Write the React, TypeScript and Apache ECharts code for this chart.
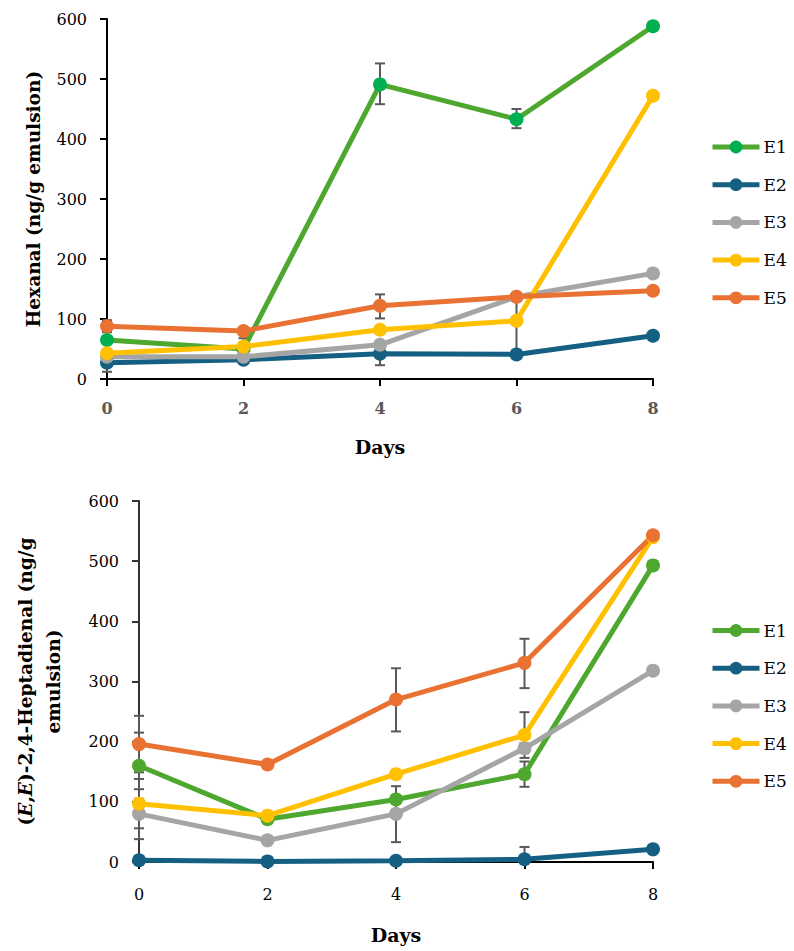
import React, { useEffect, useRef } from "react";
import * as echarts from "echarts";

const days = [0, 2, 4, 6, 8];
const seriesNames = ["E1", "E2", "E3", "E4", "E5"];
const xTicks = [0, 2, 4, 6, 8];
const yTicks = [0, 100, 200, 300, 400, 500, 600];

// Hexanal (ng/g emulsion)
const hexE1 = [65, 50, 491, 433, 588];
const hexE2 = [27, 32, 42, 41, 72];
const hexE3 = [37, 37, 57, 137, 176];
const hexE4 = [43, 54, 82, 97, 472];
const hexE5 = [88, 80, 122, 137, 147];

// error bars [day, low, high]
const hexErrE1 = [[2, 32, 68], [4, 458, 526], [6, 418, 450]];
const hexErrE2 = [[0, 12, 42], [4, 23, 59]];
const hexErrE3 = [[6, 47, 137]];
const hexErrE4: number[][] = [];
const hexErrE5 = [[0, 78, 98], [4, 101, 141]];

// (E,E)-2,4-Heptadienal (ng/g emulsion)
const hepE1 = [160, 71, 104, 146, 493];
const hepE2 = [3, 1, 2, 4.5, 21];
const hepE3 = [80, 36, 80, 189, 318];
const hepE4 = [97, 77, 146, 211, 540];
const hepE5 = [196, 162, 270, 331, 543];

const hepErrE1 = [[0, 105, 215], [6, 125, 167]];
const hepErrE2 = [[6, 0, 25]];
const hepErrE3 = [[0, 38, 121], [4, 33, 126], [6, 181, 197]];
const hepErrE4 = [[0, 56, 138], [6, 173, 249]];
const hepErrE5 = [[0, 149, 243], [4, 217, 322], [6, 289, 371]];

const lineColors = ["#4EA72E", "#156082", "#A5A5A5", "#FFC000", "#E97132"];
const topMarkerColors = ["#00B050", "#156082", "#A5A5A5", "#FFC000", "#E97132"];
const botMarkerColors = ["#4EA72E", "#156082", "#A5A5A5", "#FFC000", "#E97132"];

const FONT = "DejaVu Serif";

function errorSeries(data: number[][]) {
  return {
    type: "custom",
    z: 1,
    silent: true,
    data,
    encode: { x: 0, y: [1, 2] },
    renderItem: (params: any, api: any) => {
      const x = api.value(0);
      const p1 = api.coord([x, api.value(1)]);
      const p2 = api.coord([x, api.value(2)]);
      const w = 5;
      const st = { stroke: "#595959", lineWidth: 2 };
      return {
        type: "group",
        children: [
          { type: "line", shape: { x1: p1[0], y1: p1[1], x2: p2[0], y2: p2[1] }, style: st },
          { type: "line", shape: { x1: p1[0] - w, y1: p1[1], x2: p1[0] + w, y2: p1[1] }, style: st },
          { type: "line", shape: { x1: p2[0] - w, y1: p2[1], x2: p2[0] + w, y2: p2[1] }, style: st },
        ],
      };
    },
  };
}

function lineSeries(name: string, vals: number[], lineColor: string, markerColor: string) {
  return {
    type: "line",
    name,
    z: 3,
    data: days.map((d, i) => [d, vals[i]]),
    symbol: "circle",
    symbolSize: 14,
    lineStyle: { color: lineColor, width: 5 },
    itemStyle: { color: markerColor },
  };
}

function buildOption(cfg: any) {
  return {
    animation: false,
    backgroundColor: "#ffffff",
    grid: cfg.grid,
    legend: {
      orient: "vertical",
      left: 710,
      top: cfg.legendTop,
      padding: 0,
      data: seriesNames,
      itemWidth: 47,
      itemHeight: 16,
      itemGap: 20.7,
      lineStyle: { width: 5 },
      textStyle: { fontFamily: FONT, fontSize: 17, color: "#000", padding: [0, 0, 0, -1] },
      selectedMode: false,
    },
    xAxis: {
      type: "value",
      min: 0,
      max: 8,
      interval: 2,
      name: "Days",
      nameLocation: "middle",
      nameGap: cfg.xNameGap,
      nameTextStyle: { fontFamily: FONT, fontWeight: "bold", fontSize: 19, color: "#000" },
      axisLine: { show: true, lineStyle: { color: "#000", width: 2 } },
      axisTick: { show: true, length: 7, lineStyle: { color: "#000", width: 2 } },
      axisLabel: {
        margin: cfg.xLabelMargin,
        fontFamily: FONT,
        fontSize: 16,
        color: cfg.xLabelColor,
        fontWeight: cfg.xLabelWeight,
        formatter: (v: number) => (xTicks.indexOf(v) >= 0 ? String(v) : ""),
      },
      splitLine: { show: false },
    },
    yAxis: {
      type: "value",
      min: 0,
      max: 600,
      interval: 100,
      name: cfg.yName,
      nameLocation: "middle",
      nameRotate: 90,
      nameGap: cfg.yNameGap,
      nameTextStyle: cfg.yNameStyle,
      axisLine: { show: true, lineStyle: { color: cfg.yAxisColor, width: 2 } },
      axisTick: { show: true, length: 7, lineStyle: { color: cfg.yAxisColor, width: 2 } },
      axisLabel: {
        margin: 20,
        fontFamily: FONT,
        fontSize: 16,
        color: "#000",
        formatter: (v: number) => (yTicks.indexOf(v) >= 0 ? String(v) : ""),
      },
      splitLine: { show: false },
    },
    series: [
      ...cfg.errs.map((e: number[][]) => errorSeries(e)),
      ...cfg.vals.map((v: number[], i: number) =>
        lineSeries(seriesNames[i], v, lineColors[i], cfg.markers[i])
      ),
    ],
  };
}

export default function App() {
  const topRef = useRef<HTMLDivElement>(null);
  const botRef = useRef<HTMLDivElement>(null);

  useEffect(() => {
    const top = echarts.init(topRef.current!, undefined, { renderer: "svg" });
    const bot = echarts.init(botRef.current!, undefined, { renderer: "svg" });

    top.setOption(
      buildOption({
        grid: { left: 107, top: 19, width: 546, height: 360 },
        legendTop: 138.5,
        xNameGap: 58,
        xLabelMargin: 21,
        xLabelColor: "#595959",
        xLabelWeight: "bold",
        yName: "Hexanal (ng/g emulsion)",
        yNameGap: 64,
        yNameStyle: { fontFamily: FONT, fontWeight: "bold", fontSize: 18.5, color: "#000" },
        yAxisColor: "#000",
        errs: [hexErrE1, hexErrE2, hexErrE3, hexErrE4, hexErrE5],
        vals: [hexE1, hexE2, hexE3, hexE4, hexE5],
        markers: topMarkerColors,
      })
    );

    bot.setOption(
      buildOption({
        grid: { left: 139, top: 31, width: 514, height: 361 },
        legendTop: 152,
        xNameGap: 63,
        xLabelMargin: 24,
        xLabelColor: "#000",
        xLabelWeight: "normal",
        yName: "({i|E},{i|E})-2,4-Heptadienal (ng/g\n{n|emulsion)}",
        yNameGap: 72,
        yNameStyle: {
          fontFamily: FONT,
          fontWeight: "bold",
          fontSize: 18.5,
          lineHeight: 28,
          color: "#000",
          align: "center",
          rich: {
            i: { fontFamily: FONT, fontWeight: "bold", fontStyle: "italic", fontSize: 18.5, lineHeight: 28, color: "#000" },
            n: { fontFamily: FONT, fontWeight: "bold", fontSize: 18.5, lineHeight: 28, color: "#000" },
          },
        },
        yAxisColor: "#333",
        errs: [hepErrE1, hepErrE2, hepErrE3, hepErrE4, hepErrE5],
        vals: [hepE1, hepE2, hepE3, hepE4, hepE5],
        markers: botMarkerColors,
      })
    );

    return () => {
      top.dispose();
      bot.dispose();
    };
  }, []);

  return (
    <>
      <div ref={topRef} style={{ position: "absolute", left: 0, top: 0, width: 794, height: 470 }} />
      <div ref={botRef} style={{ position: "absolute", left: 0, top: 470, width: 794, height: 481 }} />
    </>
  );
}
